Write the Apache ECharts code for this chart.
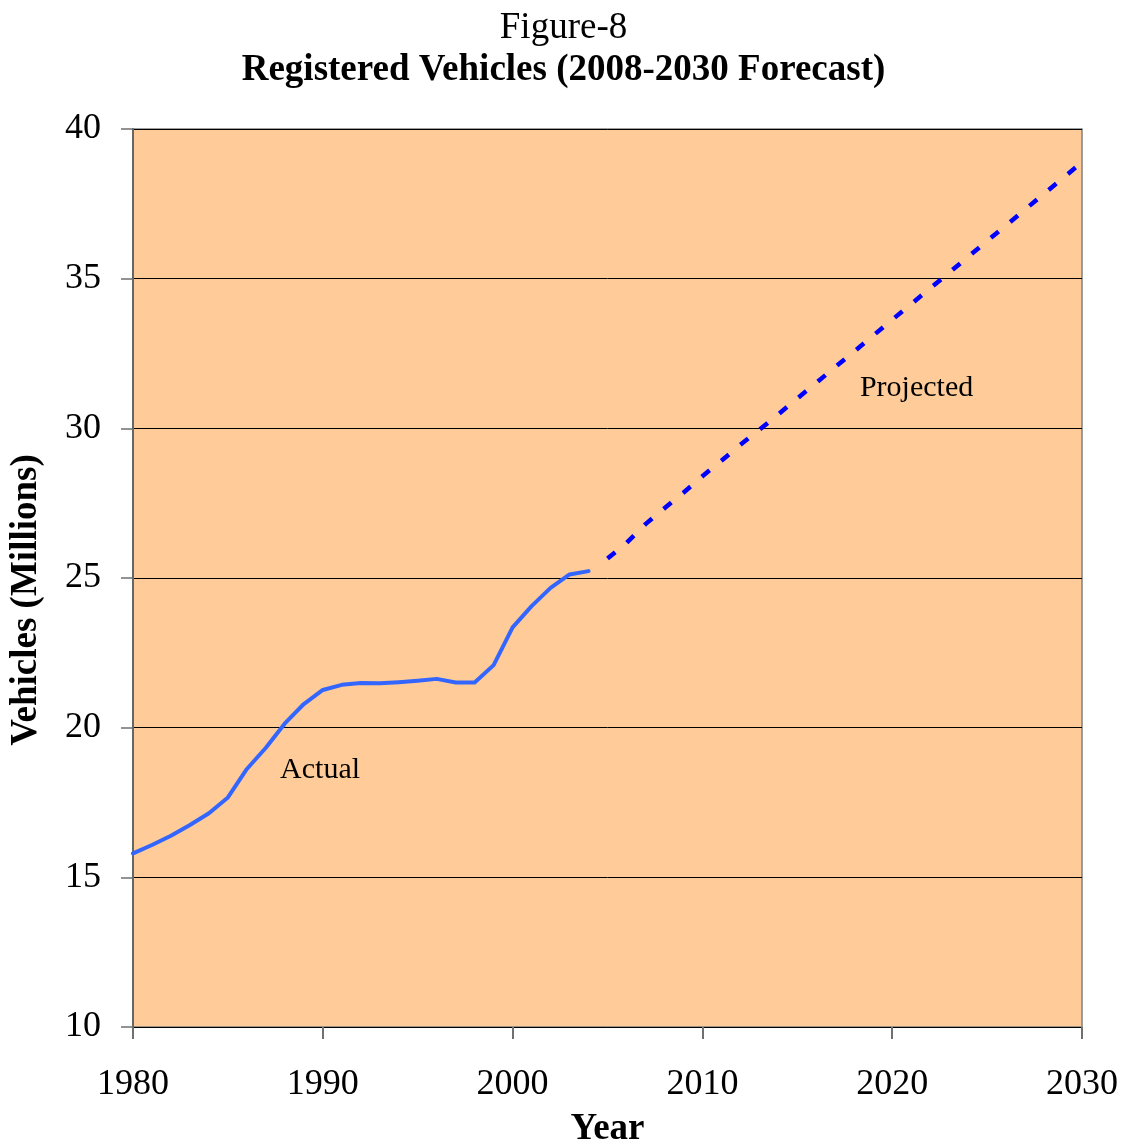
<!DOCTYPE html>
<html>
<head>
<meta charset="utf-8">
<title>Registered Vehicles (2008-2030 Forecast)</title>
<script src="https://cdn.jsdelivr.net/npm/echarts@6/dist/echarts.min.js"></script>
<style>
  html, body { margin: 0; padding: 0; background: #ffffff; overflow: hidden; }
  #chart { width: 1127px; height: 1145px; }
</style>
</head>
<body>
<div id="chart"></div>
<script>
// Registered vehicles, millions
var actualYears = [1980, 1981, 1982, 1983, 1984, 1985, 1986, 1987, 1988, 1989,
                   1990, 1991, 1992, 1993, 1994, 1995, 1996, 1997, 1998, 1999,
                   2000, 2001, 2002, 2003, 2004];
var actualValues = [15.80, 16.08, 16.39, 16.75, 17.14, 17.67, 18.62, 19.33, 20.14, 20.79,
                    21.26, 21.43, 21.49, 21.48, 21.52, 21.57, 21.63, 21.51, 21.51, 22.09,
                    23.35, 24.06, 24.67, 25.12, 25.23];

var projectedYears = [2005, 2006, 2007, 2008, 2009, 2010, 2011, 2012, 2013, 2014,
                      2015, 2016, 2017, 2018, 2019, 2020, 2021, 2022, 2023, 2024,
                      2025, 2026, 2027, 2028, 2029, 2030];
var projectedValues = [25.65, 26.17, 26.80, 27.33, 27.85, 28.40, 28.92, 29.45, 29.95, 30.47,
                       31.00, 31.52, 32.05, 32.57, 33.10, 33.63, 34.15, 34.68, 35.20, 35.73,
                       36.26, 36.78, 37.31, 37.84, 38.36, 38.89];

var xTicks = [1980, 1990, 2000, 2010, 2020, 2030];
var yTicks = [10, 15, 20, 25, 30, 35, 40];

var seriesLabels = { actual: 'Actual', projected: 'Projected' };
var labelAnchors = { actual: [1987.75, 18.58], projected: [2018.3, 31.35] };

function pairs(xs, ys) {
  return xs.map(function (x, i) { return [x, ys[i]]; });
}

var serif = "'Times New Roman', 'Liberation Serif', serif";

var chart = echarts.init(document.getElementById('chart'), null, { renderer: 'canvas' });

chart.setOption({
  backgroundColor: '#ffffff',
  animation: false,
  title: [
    {
      text: 'Figure-8',
      left: 'center',
      top: 5,
      textStyle: { fontFamily: serif, fontSize: 37, fontWeight: 'normal', color: '#000' }
    },
    {
      text: 'Registered Vehicles (2008-2030 Forecast)',
      left: 'center',
      top: 47,
      textStyle: { fontFamily: serif, fontSize: 37, fontWeight: 'bold', color: '#000' }
    }
  ],
  grid: {
    left: 133, right: 45, top: 129, bottom: 118,
    outerBoundsMode: 'none',
    containLabel: false,
    show: true,
    backgroundColor: '#FFCC99',
    borderColor: '#808080',
    borderWidth: 1.5
  },
  xAxis: {
    type: 'value',
    min: xTicks[0],
    max: xTicks[xTicks.length - 1],
    interval: 10,
    name: 'Year',
    nameLocation: 'middle',
    nameGap: 84,
    nameTextStyle: { fontFamily: serif, fontSize: 37, fontWeight: 'bold', color: '#000' },
    axisLine: { show: true, onZero: false, lineStyle: { color: '#000', width: 1 } },
    axisTick: { show: true, inside: false, length: 12, lineStyle: { color: '#707070', width: 2 } },
    axisLabel: {
      margin: 40,
      fontFamily: serif, fontSize: 36, color: '#000',
      formatter: function (v) { return String(v); }
    },
    splitLine: { show: false }
  },
  yAxis: {
    type: 'value',
    min: yTicks[0],
    max: yTicks[yTicks.length - 1],
    interval: 5,
    name: 'Vehicles (Millions)',
    nameLocation: 'middle',
    nameGap: 88,
    nameTextStyle: {
      fontFamily: serif, fontSize: 37, fontWeight: 'bold', color: '#000',
      padding: [0, 44, 0, 0]
    },
    axisLine: { show: true, onZero: false, lineStyle: { color: '#666666', width: 2 } },
    axisTick: { show: true, inside: false, length: 12, lineStyle: { color: '#707070', width: 1.5 } },
    axisLabel: { margin: 32, fontFamily: serif, fontSize: 36, color: '#000' },
    splitLine: { show: true, lineStyle: { color: '#000', width: 1 } }
  },
  series: [
    {
      name: 'Actual',
      type: 'line',
      data: pairs(actualYears, actualValues),
      showSymbol: false,
      symbol: 'none',
      smooth: false,
      lineStyle: { color: '#3366FF', width: 4, cap: 'round', join: 'round' },
      markPoint: {
        symbol: 'circle',
        symbolSize: 0,
        data: [{ coord: labelAnchors.actual, value: seriesLabels.actual }],
        label: {
          show: true, position: 'right', distance: 0,
          formatter: seriesLabels.actual,
          fontFamily: serif, fontSize: 30, color: '#000'
        }
      },
      z: 3
    },
    {
      name: 'Projected',
      type: 'line',
      data: pairs(projectedYears, projectedValues),
      showSymbol: false,
      symbol: 'none',
      lineStyle: { color: '#0000FF', width: 4.5, type: [10, 15], cap: 'butt' },
      markPoint: {
        symbol: 'circle',
        symbolSize: 0,
        data: [{ coord: labelAnchors.projected, value: seriesLabels.projected }],
        label: {
          show: true, position: 'right', distance: 0,
          formatter: seriesLabels.projected,
          fontFamily: serif, fontSize: 30, color: '#000'
        }
      },
      z: 3
    }
  ]
});
</script>
</body>
</html>
